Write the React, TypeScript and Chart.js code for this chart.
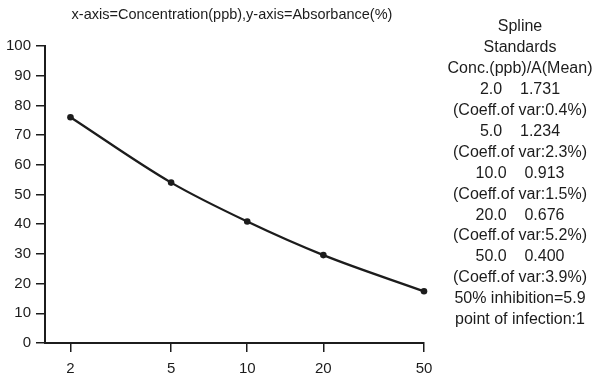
import React, { useEffect, useRef } from "react";
import { Chart, registerables } from "chart.js";

Chart.register(...registerables);

// ---- data ----
const concentrations = [2, 5, 10, 20, 50];
const absorbancePct = [76, 54, 40.9, 29.6, 17.4];
const concLabels = ["2.0", "5.0", "10.0", "20.0", "50.0"];
const meanA = ["1.731", "1.234", "0.913", "0.676", "0.400"];
const coeffVar = ["0.4", "2.3", "1.5", "5.2", "3.9"];
const yMin = 0;
const yMax = 100;
const yStep = 10;
const xMin = 1.586;
const xMax = 50;
const titleText = "x-axis=Concentration(ppb),y-axis=Absorbance(%)";
const sideHeader = ["Spline", "Standards", "Conc.(ppb)/A(Mean)"];
const inhibitionText = "50% inhibition=5.9";
const inflectionText = "point of infection:1";

const FONT = '"Liberation Sans", Arial, Helvetica, sans-serif';
const INK = "#1c1c1c";

const sideLines: string[] = [
  ...sideHeader,
  ...concLabels.flatMap((c, i) => [
    `${c}    ${meanA[i]}`,
    `(Coeff.of var:${coeffVar[i]}%)`,
  ]),
  inhibitionText,
  inflectionText,
];

const textPlugin = {
  id: "sideText",
  afterDraw(chart: any) {
    const ctx = chart.ctx as CanvasRenderingContext2D;
    ctx.save();
    ctx.fillStyle = INK;
    ctx.textAlign = "center";
    ctx.textBaseline = "middle";
    ctx.font = `14.5px ${FONT}`;
    ctx.fillText(titleText, 232, 15);
    ctx.font = `16px ${FONT}`;
    sideLines.forEach((line, i) => {
      ctx.fillText(line, 520, 27 + i * 20.9);
    });
    ctx.restore();
  },
};

export default function App() {
  const ref = useRef<HTMLCanvasElement | null>(null);

  useEffect(() => {
    document.body.style.margin = "0";
    const canvas = ref.current;
    if (!canvas) return;
    const chart = new Chart(canvas, {
      type: "line",
      data: {
        datasets: [
          {
            data: concentrations.map((c, i) => ({ x: c, y: absorbancePct[i] })),
            borderColor: INK,
            backgroundColor: INK,
            borderWidth: 2.3,
            pointRadius: 3.3,
            pointBorderWidth: 0,
            cubicInterpolationMode: "monotone",
            fill: false,
            clip: false as any,
          },
        ],
      },
      options: {
        animation: false,
        responsive: false,
        devicePixelRatio: 1,
        layout: { padding: { top: 46, right: 176, left: 0, bottom: 0 } },
        plugins: {
          legend: { display: false },
          tooltip: { enabled: false },
          title: { display: false },
        },
        scales: {
          x: {
            type: "logarithmic",
            min: xMin,
            max: xMax,
            afterBuildTicks: (s: any) => {
              s.ticks = concentrations.map((v) => ({ value: v }));
            },
            afterFit: (s: any) => {
              s.height = 33;
            },
            ticks: {
              autoSkip: false,
              maxRotation: 0,
              padding: 8,
              color: INK,
              font: { family: FONT, size: 15 },
              callback: (v: any) => String(v),
            },
            grid: {
              drawOnChartArea: false,
              drawTicks: true,
              tickLength: 9,
              color: INK,
              lineWidth: 1.5,
            },
            border: { display: true, color: INK, width: 2 },
          },
          y: {
            type: "linear",
            min: yMin,
            max: yMax,
            afterFit: (s: any) => {
              s.width = 45;
            },
            ticks: {
              stepSize: yStep,
              padding: 5,
              color: INK,
              font: { family: FONT, size: 15 },
            },
            grid: {
              drawOnChartArea: false,
              drawTicks: true,
              tickLength: 9,
              color: INK,
              lineWidth: 1.5,
            },
            border: { display: true, color: INK, width: 2 },
          },
        },
      },
      plugins: [textPlugin],
    });
    return () => chart.destroy();
  }, []);

  return (
    <div style={{ width: 600, height: 376, background: "#fff" }}>
      <canvas ref={ref} width={600} height={376} style={{ display: "block" }} />
    </div>
  );
}
